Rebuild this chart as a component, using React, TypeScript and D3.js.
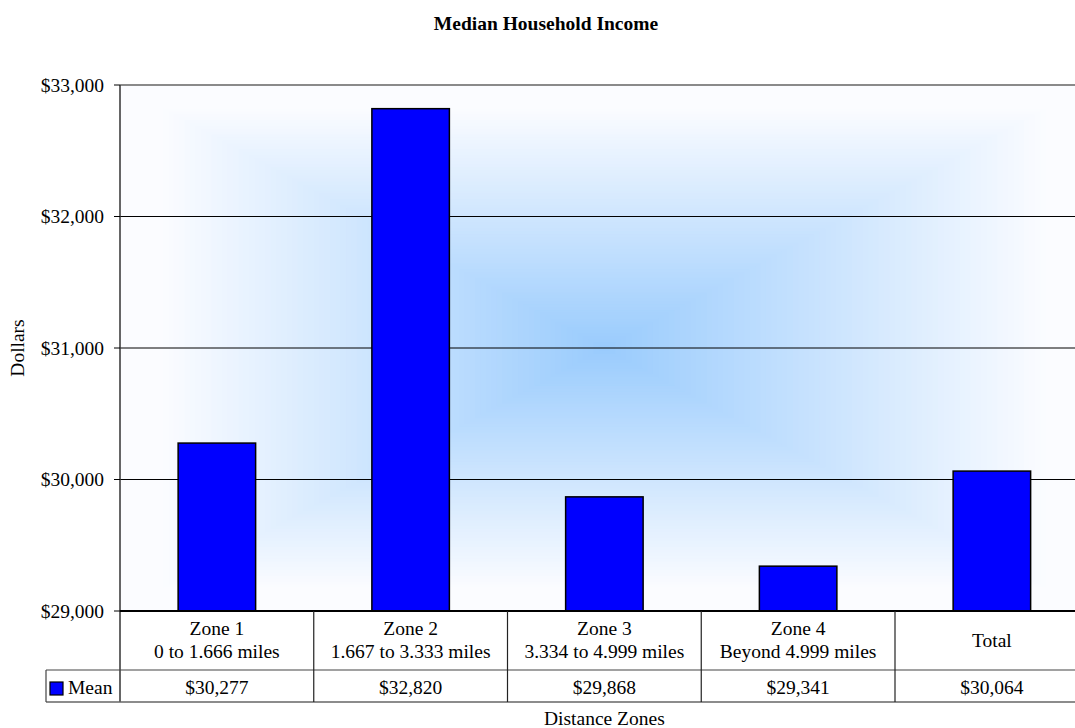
import * as d3 from 'd3';

// chart data
const zones = ['Zone 1', 'Zone 2', 'Zone 3', 'Zone 4', 'Total'];
const zoneRanges = ['0 to 1.666 miles', '1.667 to 3.333 miles', '3.334 to 4.999 miles', 'Beyond 4.999 miles', ''];
const meanIncome = [30277, 32820, 29868, 29341, 30064];
const yTicks = [29000, 30000, 31000, 32000, 33000];

const W = 1075;
const H = 728;
const FONT = "'Liberation Serif', 'Times New Roman', serif";

const App = () => {
  const left = 120;
  const right = 1088.75;
  const top = 85;
  const bottom = 611;
  const row1 = 670;
  const row2 = 702;
  const legendLeft = 46;

  const x = d3.scaleBand<string>().domain(zones).range([left, right]);
  const y = d3.scaleLinear().domain([29000, 33000]).range([bottom, top]);
  const fmt = d3.format('$,');

  // rectangular "from center" gradient built from nested rects
  const cx = (left + right) / 2;
  const cy = (top + bottom) / 2;
  const hw = (right - left) / 2;
  const hh = (bottom - top) / 2;
  const col = d3.interpolateRgb('#fbfcff', '#99cbfd');
  const steps = d3.range(0, 90);

  const barW = x.bandwidth() * 0.4;
  const bounds = [left, ...zones.map((z) => (x(z) as number) + x.bandwidth())];

  return (
    <svg width={W} height={H} style={{ position: 'absolute', left: 0, top: 0, background: '#fff', fontFamily: FONT }}>
      <text x={546} y={29.5} textAnchor="middle" fontWeight="bold" fontSize={19.5}>
        Median Household Income
      </text>

      {/* background */}
      <g>
        {steps.map((i) => {
          const f = i / steps.length;
          const s = 1 - f;
          return (
            <rect
              key={i}
              x={cx - hw * s}
              y={cy - hh * s}
              width={2 * hw * s}
              height={2 * hh * s}
              fill={col(Math.max(0, (f - 0.08) / 0.92))}
            />
          );
        })}
      </g>

      {/* gridlines */}
      {yTicks.slice(1, -1).map((t) => (
        <line key={t} x1={left} x2={right} y1={y(t)} y2={y(t)} stroke="#000" strokeWidth={1} />
      ))}
      <line x1={left} x2={right} y1={top} y2={top} stroke="#8a8a8a" strokeWidth={2} />

      {/* bars */}
      {zones.map((z, i) => {
        const bx = (x(z) as number) + x.bandwidth() / 2 - barW / 2;
        return (
          <rect
            key={z}
            x={bx}
            y={y(meanIncome[i])}
            width={barW}
            height={bottom - y(meanIncome[i])}
            fill="#0000ff"
            stroke="#000"
            strokeWidth={1.5}
          />
        );
      })}

      {/* y axis */}
      <line x1={left} x2={left} y1={top} y2={row2} stroke="#333" strokeWidth={1.5} />
      {yTicks.map((t) => (
        <g key={t}>
          <line x1={left - 6} x2={left} y1={y(t)} y2={y(t)} stroke="#000" strokeWidth={1} />
          <text x={left - 16} y={y(t)} dy="0.35em" textAnchor="end" fontSize={19.5}>
            {fmt(t)}
          </text>
        </g>
      ))}
      <text transform={`translate(24,${cy}) rotate(-90)`} textAnchor="middle" fontSize={19.5}>
        Dollars
      </text>

      {/* data table */}
      <line x1={left} x2={right} y1={bottom} y2={bottom} stroke="#000" strokeWidth={2} />
      <line x1={legendLeft} x2={right} y1={row1} y2={row1} stroke="#444" strokeWidth={1.2} />
      <line x1={legendLeft} x2={right} y1={row2} y2={row2} stroke="#666" strokeWidth={1.5} />
      <line x1={legendLeft} x2={legendLeft} y1={row1} y2={row2} stroke="#444" strokeWidth={1.2} />
      {bounds.slice(1).map((b, i) => (
        <line key={i} x1={b} x2={b} y1={bottom} y2={row2} stroke="#222" strokeWidth={1.2} />
      ))}
      {zones.map((z, i) => {
        const mx = (x(z) as number) + x.bandwidth() / 2;
        return (
          <g key={z} fontSize={19.5} textAnchor="middle">
            {zoneRanges[i] ? (
              <>
                <text x={mx} y={635}>{z}</text>
                <text x={mx} y={658}>{zoneRanges[i]}</text>
              </>
            ) : (
              <text x={mx} y={647}>{z}</text>
            )}
            <text x={mx} y={694}>{fmt(meanIncome[i])}</text>
          </g>
        );
      })}
      <rect x={50} y={682} width={13} height={13} fill="#0000ff" stroke="#000" strokeWidth={1.2} />
      <text x={68} y={694} fontSize={19.5}>Mean</text>

      <text x={(left + right) / 2} y={725} textAnchor="middle" fontSize={19.5}>
        Distance Zones
      </text>
    </svg>
  );
};

export default App;
